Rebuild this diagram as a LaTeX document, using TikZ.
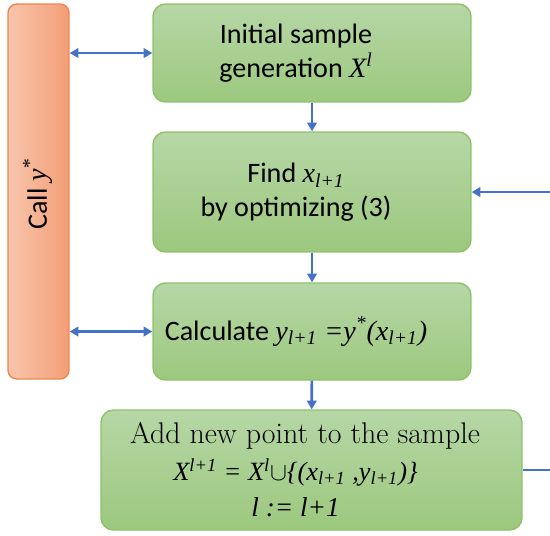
\documentclass[tikz,border=0pt]{standalone}
\usepackage{fontspec}
\usetikzlibrary{arrows.meta}
\newfontfamily\carfont{Carlito}
\newfontfamily\tmsfont{Liberation Serif}
\newcommand{\vi}[1]{{\tmsfont\itshape #1}}
\newcommand{\rs}{\rule{0.64cm}{0pt}}
\definecolor{boxtop}{RGB}{182,215,166}
\definecolor{boxbot}{RGB}{156,200,126}
\definecolor{boxline}{RGB}{143,193,108}
\definecolor{callleft}{RGB}{248,197,172}
\definecolor{callright}{RGB}{243,158,118}
\definecolor{callline}{RGB}{238,132,80}
\definecolor{flowblue}{RGB}{68,114,196}

\tikzset{
  stepbox/.style={draw=boxline, line width=0.8pt, rounded corners=7pt,
    top color=boxtop, bottom color=boxbot, align=center, inner sep=0pt,
    minimum width=6.36cm, font=\carfont\fontsize{16}{19}\selectfont},
  callbar/.style={draw=callline, line width=0.8pt, rounded corners=5pt,
    left color=callleft, right color=callright, inner sep=0pt},
  flow/.style={draw=flowblue, line width=1.5pt, -{Triangle[length=5pt,width=5.5pt]}},
  flowboth/.style={flow, {Triangle[length=5pt,width=5.5pt]}-{Triangle[length=5pt,width=5.5pt]}}
}

\begin{document}
\begin{tikzpicture}[x=0.02cm,y=-0.02cm]
\useasboundingbox (0,0) rectangle (550,535);
% left bar
\node[callbar, minimum width=1.22cm, minimum height=7.5cm] (call) at (38.5,191.5) {};
\node[rotate=90, font=\carfont\fontsize{16}{19}\selectfont] (calltext) at (38,194) {Call \vi{y\textsuperscript{*}}};
% main steps
\node[stepbox, minimum height=1.96cm] (init) at (312,53) {Initial sample\rs\\generation \vi{X\textsuperscript{l}}\rs};
\node[stepbox, minimum height=2.40cm] (find) at (312,192) {Find \vi{x\textsubscript{l+1}}\rs\\by optimizing (3)\rs};
\node[stepbox, minimum height=1.94cm] (calc) at (312,331.5) {Calculate \vi{y\textsubscript{l+1} =y\textsuperscript{*}(x\textsubscript{l+1})}\rs};
\node[stepbox, minimum width=8.42cm, minimum height=2.40cm, font=\rmfamily\fontsize{17}{19.8}\selectfont] (add) at (311.5,470)
  {Add new point to the sample\rule{0.26cm}{0pt}\\[1pt]
   \fontsize{15}{19.8}\selectfont\vi{X\textsuperscript{l+1} = X\textsuperscript{l}}$\cup$\vi{\{(x\textsubscript{l+1} ,y\textsubscript{l+1})\}}\rs\\[1pt]
   \fontsize{15.5}{19.8}\selectfont\vi{l := l+1}\rs};
\coordinate (turn) at (554,0);
% arrows
\draw[flow] (init) -- (find);
\draw[flow] (find) -- (calc);
\draw[flow] (calc) -- (add);
\draw[flowboth] (call.east |- init.west) -- (init.west);
\draw[flowboth] (call.east |- calc.west) -- (calc.west);
\draw[flow] (add.east) -- (add.east -| turn) |- (find.east);
\end{tikzpicture}
\end{document}
